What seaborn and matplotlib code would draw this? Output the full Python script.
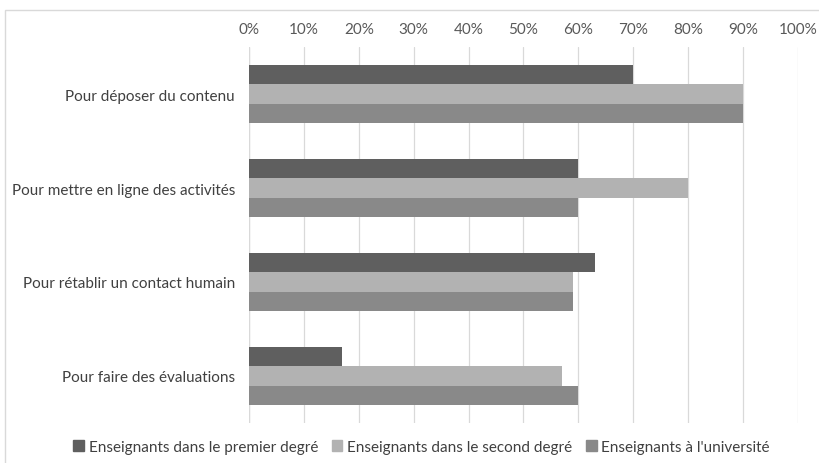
import matplotlib
matplotlib.use("Agg")
import matplotlib.pyplot as plt
import matplotlib.patches as mpatches
from matplotlib.ticker import PercentFormatter, MultipleLocator
import seaborn as sns
import pandas as pd

categories = [
    "Pour déposer du contenu",
    "Pour mettre en ligne des activités",
    "Pour rétablir un contact humain",
    "Pour faire des évaluations",
]
series = [
    "Enseignants dans le premier degré",
    "Enseignants dans le second degré",
    "Enseignants à l'université",
]
premier_degre = [70, 60, 63, 17]
second_degre = [90, 80, 59, 57]
universite = [90, 60, 59, 60]
colors = ["#5f5f5f", "#b2b2b2", "#898989"]

rows = []
for name, vals in zip(series, [premier_degre, second_degre, universite]):
    for cat, v in zip(categories, vals):
        rows.append({"cat": cat, "serie": name, "val": v})
df = pd.DataFrame(rows)

sns.set_theme(style="white")
plt.rcParams["font.family"] = ["Lato", "DejaVu Sans"]

fig = plt.figure(figsize=(8.2, 4.64), dpi=100)
ax = fig.add_axes([249 / 820, 1 - 424 / 464, (798 - 249) / 820, (424 - 48) / 464])

sns.barplot(data=df, y="cat", x="val", hue="serie", order=categories,
            hue_order=series, palette=colors, orient="h", width=0.62,
            saturation=1, edgecolor="none", ax=ax, legend=False)

ax.set_xlim(0, 100)
ax.set_ylim(3.5, -0.5)
ax.xaxis.set_major_locator(MultipleLocator(10))
ax.xaxis.set_major_formatter(PercentFormatter(decimals=0))
ax.xaxis.tick_top()
ax.tick_params(axis="x", length=0, pad=8, labelsize=11, labelcolor="#595959")
ax.tick_params(axis="y", length=0, pad=10, labelsize=11, labelcolor="#404040")
ax.grid(axis="x", color="#d9d9d9", linewidth=0.9)
ax.set_axisbelow(True)
for s in ax.spines.values():
    s.set_visible(False)
ax.axvline(0, color="#d9d9d9", linewidth=0.9, zorder=0)
ax.set_xlabel("")
ax.set_ylabel("")

handles = [mpatches.Patch(color=c, label=n) for c, n in zip(colors, series)]
fig.legend(handles=handles, loc="center", bbox_to_anchor=(0.514, 1 - 448 / 464),
           ncol=3, frameon=False, fontsize=11, handlelength=0.7,
           handleheight=0.7, handletextpad=0.3, columnspacing=0.9,
           labelcolor="#404040")

# light frame around the chart area
fig.patches.append(mpatches.Rectangle((5 / 820, -0.01), 1.0, 1 - 11 / 464 + 0.01,
                                      transform=fig.transFigure, fill=False,
                                      edgecolor="#d9d9d9", linewidth=1))

fig.savefig("out.png", dpi=100)
